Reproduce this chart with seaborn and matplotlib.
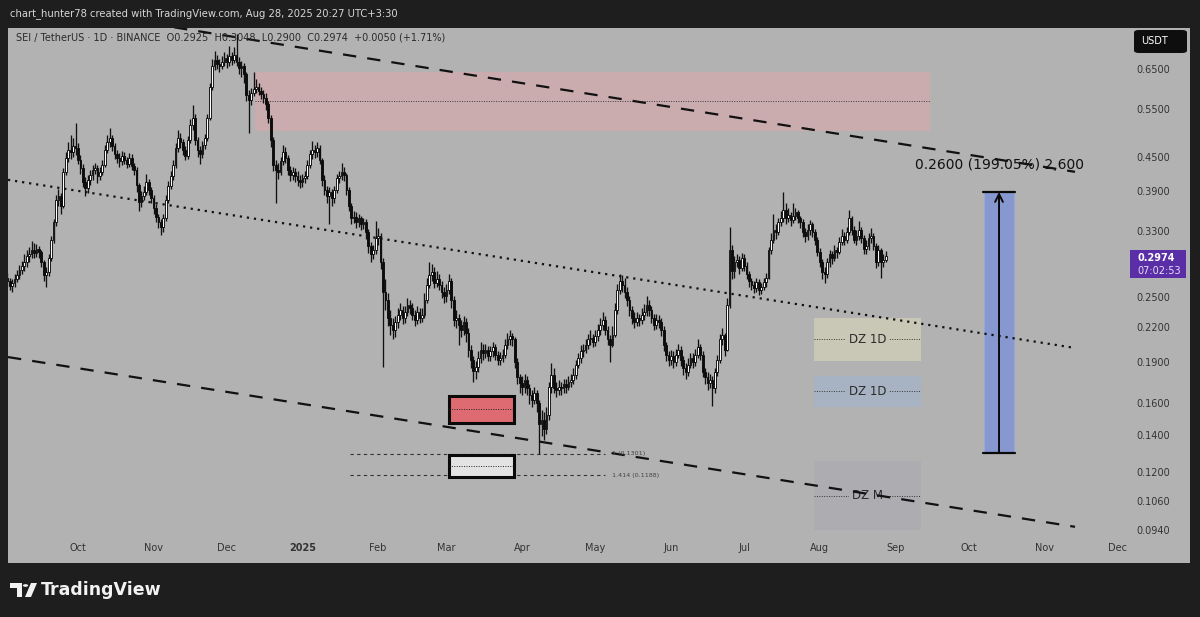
import numpy as np
import pandas as pd
import matplotlib
matplotlib.use("Agg")
import matplotlib.pyplot as plt
import matplotlib.dates as mdates
from matplotlib.patches import Rectangle, FancyBboxPatch, Polygon, Circle
import seaborn as sns

# ---------------- data ----------------
start_date = "2024-09-02"
first_open = 0.272
closes = [
    0.268, 0.263, 0.266, 0.271, 0.275, 0.281, 0.286, 0.290, 0.298, 0.300,
    0.305, 0.302, 0.307, 0.303, 0.290, 0.275, 0.279, 0.296, 0.319, 0.343,
    0.377, 0.383, 0.368, 0.424, 0.450, 0.465, 0.461, 0.472, 0.468, 0.446,
    0.431, 0.406, 0.396, 0.410, 0.418, 0.427, 0.431, 0.417, 0.424, 0.436,
    0.465, 0.480, 0.488, 0.472, 0.456, 0.450, 0.443, 0.454, 0.446, 0.439,
    0.450, 0.435, 0.427, 0.401, 0.374, 0.383, 0.390, 0.406, 0.393, 0.380,
    0.365, 0.351, 0.343, 0.337, 0.349, 0.377, 0.400, 0.417, 0.436, 0.468,
    0.488, 0.480, 0.465, 0.454, 0.484, 0.516, 0.532, 0.484, 0.465, 0.456,
    0.474, 0.488, 0.532, 0.604, 0.661, 0.678, 0.667, 0.661, 0.672, 0.684,
    0.672, 0.690, 0.678, 0.693, 0.672, 0.656, 0.661, 0.639, 0.584, 0.573,
    0.590, 0.601, 0.606, 0.596, 0.587, 0.578, 0.564, 0.532, 0.484, 0.436,
    0.427, 0.424, 0.443, 0.461, 0.450, 0.427, 0.418, 0.424, 0.417, 0.410,
    0.406, 0.413, 0.417, 0.436, 0.456, 0.465, 0.461, 0.468, 0.446, 0.410,
    0.393, 0.383, 0.390, 0.380, 0.393, 0.413, 0.417, 0.424, 0.418, 0.393,
    0.368, 0.349, 0.351, 0.343, 0.349, 0.340, 0.343, 0.329, 0.311, 0.300,
    0.305, 0.321, 0.324, 0.290, 0.256, 0.248, 0.230, 0.223, 0.218, 0.226,
    0.233, 0.238, 0.230, 0.236, 0.243, 0.240, 0.233, 0.228, 0.236, 0.230,
    0.233, 0.248, 0.264, 0.275, 0.279, 0.266, 0.271, 0.264, 0.256, 0.252,
    0.258, 0.268, 0.248, 0.228, 0.230, 0.223, 0.218, 0.226, 0.216, 0.201,
    0.193, 0.184, 0.187, 0.194, 0.201, 0.198, 0.201, 0.196, 0.200, 0.203,
    0.197, 0.193, 0.194, 0.197, 0.205, 0.210, 0.213, 0.210, 0.191, 0.179,
    0.175, 0.172, 0.177, 0.171, 0.166, 0.163, 0.168, 0.161, 0.147, 0.150,
    0.144, 0.153, 0.172, 0.181, 0.171, 0.170, 0.172, 0.171, 0.174, 0.172,
    0.176, 0.177, 0.181, 0.189, 0.194, 0.200, 0.201, 0.205, 0.210, 0.211,
    0.208, 0.213, 0.218, 0.223, 0.228, 0.218, 0.210, 0.205, 0.214, 0.238,
    0.258, 0.268, 0.264, 0.256, 0.248, 0.238, 0.230, 0.226, 0.230, 0.228,
    0.233, 0.236, 0.243, 0.238, 0.230, 0.223, 0.228, 0.226, 0.218, 0.205,
    0.197, 0.193, 0.196, 0.191, 0.197, 0.201, 0.193, 0.186, 0.183, 0.189,
    0.194, 0.191, 0.197, 0.203, 0.197, 0.183, 0.179, 0.175, 0.177, 0.171,
    0.183, 0.193, 0.210, 0.214, 0.201, 0.243, 0.305, 0.280, 0.290, 0.293,
    0.283, 0.296, 0.286, 0.276, 0.268, 0.264, 0.261, 0.267, 0.258, 0.262,
    0.267, 0.272, 0.305, 0.319, 0.332, 0.329, 0.343, 0.349, 0.361, 0.349,
    0.354, 0.346, 0.352, 0.358, 0.349, 0.343, 0.329, 0.324, 0.332, 0.340,
    0.329, 0.319, 0.303, 0.290, 0.279, 0.276, 0.290, 0.300, 0.296, 0.305,
    0.303, 0.316, 0.324, 0.319, 0.329, 0.349, 0.332, 0.319, 0.324, 0.332,
    0.321, 0.307, 0.311, 0.321, 0.324, 0.311, 0.290, 0.305, 0.290, 0.2925,
    0.2974,
]
highs = [
    0.278, 0.272, 0.270, 0.276, 0.281, 0.287, 0.292, 0.300, 0.305, 0.309,
    0.317, 0.314, 0.313, 0.311, 0.306, 0.293, 0.284, 0.300, 0.324, 0.348,
    0.385, 0.395, 0.388, 0.430, 0.460, 0.480, 0.495, 0.488, 0.520, 0.478,
    0.455, 0.438, 0.415, 0.418, 0.428, 0.436, 0.440, 0.436, 0.432, 0.445,
    0.475, 0.495, 0.510, 0.495, 0.478, 0.465, 0.458, 0.462, 0.460, 0.452,
    0.458, 0.456, 0.440, 0.432, 0.405, 0.392, 0.400, 0.420, 0.412, 0.398,
    0.385, 0.370, 0.356, 0.348, 0.356, 0.384, 0.408, 0.426, 0.445, 0.478,
    0.505, 0.500, 0.486, 0.472, 0.492, 0.530, 0.560, 0.540, 0.490, 0.472,
    0.482, 0.496, 0.540, 0.615, 0.680, 0.705, 0.692, 0.680, 0.690, 0.700,
    0.695, 0.720, 0.702, 0.715, 0.755, 0.685, 0.675, 0.668, 0.645, 0.598,
    0.602, 0.645, 0.625, 0.615, 0.606, 0.598, 0.590, 0.570, 0.538, 0.490,
    0.445, 0.440, 0.452, 0.475, 0.470, 0.455, 0.435, 0.432, 0.430, 0.425,
    0.418, 0.420, 0.425, 0.445, 0.465, 0.482, 0.475, 0.480, 0.475, 0.450,
    0.418, 0.400, 0.398, 0.395, 0.400, 0.420, 0.425, 0.440, 0.432, 0.422,
    0.398, 0.372, 0.360, 0.358, 0.356, 0.352, 0.350, 0.348, 0.334, 0.316,
    0.312, 0.345, 0.335, 0.328, 0.295, 0.270, 0.255, 0.238, 0.230, 0.232,
    0.240, 0.245, 0.242, 0.242, 0.250, 0.248, 0.245, 0.238, 0.242, 0.240,
    0.240, 0.255, 0.272, 0.290, 0.288, 0.284, 0.280, 0.276, 0.268, 0.262,
    0.265, 0.276, 0.272, 0.252, 0.238, 0.234, 0.228, 0.232, 0.230, 0.220,
    0.205, 0.196, 0.192, 0.200, 0.208, 0.206, 0.206, 0.204, 0.204, 0.208,
    0.206, 0.200, 0.199, 0.202, 0.210, 0.216, 0.218, 0.216, 0.212, 0.194,
    0.182, 0.180, 0.182, 0.180, 0.174, 0.170, 0.172, 0.170, 0.163, 0.156,
    0.155, 0.158, 0.176, 0.190, 0.186, 0.176, 0.177, 0.176, 0.178, 0.178,
    0.180, 0.182, 0.186, 0.193, 0.198, 0.205, 0.206, 0.210, 0.215, 0.218,
    0.215, 0.218, 0.224, 0.230, 0.236, 0.232, 0.222, 0.214, 0.222, 0.245,
    0.265, 0.276, 0.275, 0.272, 0.262, 0.252, 0.242, 0.236, 0.236, 0.234,
    0.240, 0.244, 0.252, 0.248, 0.242, 0.234, 0.234, 0.233, 0.230, 0.222,
    0.208, 0.200, 0.201, 0.200, 0.202, 0.206, 0.204, 0.196, 0.190, 0.194,
    0.198, 0.198, 0.202, 0.210, 0.206, 0.200, 0.186, 0.183, 0.182, 0.180,
    0.186, 0.197, 0.215, 0.220, 0.216, 0.250, 0.336, 0.312, 0.298, 0.300,
    0.298, 0.302, 0.300, 0.290, 0.280, 0.272, 0.268, 0.272, 0.270, 0.266,
    0.272, 0.278, 0.310, 0.328, 0.356, 0.340, 0.350, 0.360, 0.389, 0.372,
    0.365, 0.358, 0.372, 0.365, 0.362, 0.352, 0.348, 0.335, 0.340, 0.346,
    0.344, 0.334, 0.322, 0.308, 0.294, 0.284, 0.296, 0.306, 0.304, 0.312,
    0.310, 0.322, 0.334, 0.330, 0.336, 0.362, 0.352, 0.338, 0.332, 0.345,
    0.336, 0.325, 0.318, 0.328, 0.335, 0.328, 0.315, 0.312, 0.308, 0.300,
    0.3048,
]
lows = [
    0.262, 0.258, 0.256, 0.262, 0.267, 0.271, 0.276, 0.280, 0.285, 0.291,
    0.295, 0.296, 0.297, 0.296, 0.285, 0.268, 0.262, 0.274, 0.292, 0.315,
    0.338, 0.368, 0.355, 0.365, 0.418, 0.442, 0.448, 0.452, 0.455, 0.438,
    0.420, 0.398, 0.383, 0.388, 0.402, 0.410, 0.420, 0.405, 0.410, 0.418,
    0.432, 0.458, 0.470, 0.462, 0.448, 0.440, 0.432, 0.436, 0.438, 0.430,
    0.432, 0.428, 0.418, 0.390, 0.360, 0.366, 0.376, 0.385, 0.385, 0.372,
    0.356, 0.344, 0.335, 0.326, 0.330, 0.345, 0.372, 0.394, 0.410, 0.430,
    0.460, 0.468, 0.455, 0.445, 0.448, 0.478, 0.505, 0.475, 0.452, 0.438,
    0.450, 0.466, 0.482, 0.528, 0.598, 0.650, 0.652, 0.645, 0.652, 0.660,
    0.655, 0.662, 0.665, 0.670, 0.660, 0.640, 0.630, 0.615, 0.570, 0.500,
    0.560, 0.582, 0.590, 0.585, 0.575, 0.566, 0.550, 0.520, 0.470, 0.425,
    0.372, 0.412, 0.418, 0.436, 0.440, 0.418, 0.408, 0.410, 0.406, 0.400,
    0.396, 0.398, 0.405, 0.412, 0.430, 0.448, 0.450, 0.452, 0.438, 0.400,
    0.384, 0.372, 0.340, 0.368, 0.372, 0.388, 0.405, 0.410, 0.408, 0.385,
    0.360, 0.340, 0.342, 0.335, 0.336, 0.332, 0.334, 0.320, 0.302, 0.290,
    0.294, 0.300, 0.312, 0.282, 0.187, 0.238, 0.222, 0.214, 0.210, 0.212,
    0.220, 0.228, 0.224, 0.225, 0.232, 0.234, 0.228, 0.222, 0.224, 0.225,
    0.226, 0.230, 0.245, 0.260, 0.268, 0.260, 0.262, 0.258, 0.250, 0.245,
    0.246, 0.254, 0.240, 0.222, 0.220, 0.205, 0.212, 0.214, 0.208, 0.195,
    0.186, 0.176, 0.178, 0.183, 0.190, 0.193, 0.194, 0.192, 0.192, 0.195,
    0.193, 0.189, 0.189, 0.191, 0.194, 0.202, 0.205, 0.204, 0.186, 0.174,
    0.168, 0.166, 0.168, 0.166, 0.160, 0.158, 0.160, 0.155, 0.130, 0.140,
    0.138, 0.141, 0.150, 0.168, 0.168, 0.165, 0.166, 0.166, 0.168, 0.168,
    0.170, 0.172, 0.174, 0.178, 0.186, 0.190, 0.195, 0.198, 0.202, 0.205,
    0.203, 0.204, 0.209, 0.214, 0.218, 0.214, 0.205, 0.191, 0.203, 0.212,
    0.234, 0.254, 0.256, 0.250, 0.242, 0.232, 0.224, 0.220, 0.222, 0.222,
    0.224, 0.228, 0.232, 0.232, 0.225, 0.218, 0.219, 0.220, 0.213, 0.200,
    0.192, 0.188, 0.189, 0.186, 0.188, 0.194, 0.188, 0.181, 0.178, 0.180,
    0.186, 0.186, 0.188, 0.194, 0.193, 0.179, 0.174, 0.170, 0.171, 0.159,
    0.168, 0.180, 0.190, 0.205, 0.196, 0.200, 0.240, 0.270, 0.272, 0.284,
    0.276, 0.280, 0.280, 0.270, 0.262, 0.258, 0.255, 0.256, 0.253, 0.254,
    0.258, 0.262, 0.270, 0.300, 0.314, 0.320, 0.325, 0.338, 0.344, 0.340,
    0.344, 0.338, 0.342, 0.346, 0.342, 0.335, 0.322, 0.316, 0.318, 0.326,
    0.322, 0.312, 0.298, 0.284, 0.270, 0.266, 0.272, 0.285, 0.288, 0.292,
    0.296, 0.300, 0.312, 0.312, 0.315, 0.325, 0.326, 0.314, 0.312, 0.318,
    0.315, 0.300, 0.300, 0.306, 0.315, 0.305, 0.283, 0.286, 0.272, 0.285,
    0.2900,
]

price_ticks = [0.65, 0.55, 0.45, 0.39, 0.33, 0.25, 0.22, 0.19, 0.16, 0.14, 0.12, 0.106, 0.094]
price_tick_labels = ["0.6500", "0.5500", "0.4500", "0.3900", "0.3300", "0.2500", "0.2200",
                     "0.1900", "0.1600", "0.1400", "0.1200", "0.1060", "0.0940"]
month_dates = ["2024-10-01", "2024-11-01", "2024-12-01", "2025-01-01", "2025-02-01",
               "2025-03-01", "2025-04-01", "2025-05-01", "2025-06-01", "2025-07-01",
               "2025-08-01", "2025-09-01", "2025-10-01", "2025-11-01", "2025-12-01"]
month_labels = ["Oct", "Nov", "Dec", "2025", "Feb", "Mar", "Apr", "May", "Jun", "Jul",
                "Aug", "Sep", "Oct", "Nov", "Dec"]

# drawings (date, price)
upper_trend_dates = ["2024-10-30 12:00", "2025-11-13 14:00"]
upper_trend_prices = [0.790, 0.424]
mid_trend_dates = ["2024-09-02 08:00", "2025-11-13 14:00"]
mid_trend_prices = [0.410, 0.2026]
lower_trend_dates = ["2024-09-02 08:00", "2025-11-13 14:00"]
lower_trend_prices = [0.195, 0.0957]

supply_zone_dates = ["2024-12-12 14:00", "2025-09-15 05:00"]
supply_zone_prices = [0.503, 0.645]
red_box_dates = ["2025-03-02 02:00", "2025-03-28 17:00"]
red_box_prices = [0.148, 0.1657]
white_box_prices = [0.118, 0.1294]
fib_dates = ["2025-01-20 12:00", "2025-05-05 00:00"]
fib_levels = [0.1301, 0.1188]
fib_labels = ["1 (0.1301)", "1.414 (0.1188)"]
dz_dates = ["2025-07-29 14:00", "2025-09-11 12:00"]
dz_bottoms = [0.1919, 0.1582, 0.0944]
dz_tops = [0.2298, 0.1802, 0.1261]
dz_labels = ["DZ 1D", "DZ 1D", "DZ M"]
dz_colors = ["#c9c7b6", "#a7b3c3", "#adadb1"]
measure_dates = ["2025-10-07 07:00", "2025-10-19 14:00"]
measure_prices = [0.1305, 0.3897]
measure_label = "0.2600 (199.05%) 2,600"
last_price_label = "0.2974"
countdown_label = "07:02:53"

# ---------------- figure ----------------
sns.set_theme(style="dark")
plt.rcParams["font.family"] = ["DejaVu Sans"]

W, H = 1200, 617
BG_DARK = "#1e1e1e"
PANEL = "#b2b2b2"
fig = plt.figure(figsize=(W / 100, H / 100), dpi=100, facecolor=BG_DARK)


def fx(x):
    return x / W


def fy(y):
    return 1 - y / H


# gray panel (behind the axes)
fig.patches.append(Rectangle((fx(8), fy(563)), fx(1190) - fx(8), fy(28) - fy(563),
                             transform=fig.transFigure, facecolor=PANEL, edgecolor="none", zorder=-5))

ax = fig.add_axes([fx(8), fy(537), fx(1190) - fx(8), fy(28) - fy(537)])
ax.set_zorder(1)
ax.set_facecolor(PANEL)
for s in ax.spines.values():
    s.set_visible(False)

dates = pd.date_range(start_date, periods=len(closes), freq="D")
xd = mdates.date2num(dates)
opens = [first_open] + closes[:-1]
df = pd.DataFrame({"x": xd, "open": opens, "high": highs, "low": lows, "close": closes})
df["up"] = df["close"] >= df["open"]
df["bottom"] = df[["open", "close"]].min(axis=1)
df["top"] = df[["open", "close"]].max(axis=1)

base = mdates.date2num(pd.Timestamp(start_date))
ax.set_yscale("log")
ax.set_xlim(base + 0.33, base + 484.7)
ax.set_ylim(0.0917, 0.775)

# wicks
ax.vlines(df["x"], df["low"], df["high"], color="#111111", linewidth=0.95, zorder=3)
# bodies
up = df[df["up"]]
dn = df[~df["up"]]
ax.bar(up["x"], np.maximum(up["top"] - up["bottom"], up["top"] * 0.004), bottom=up["bottom"],
       width=0.72, color="white", edgecolor="#0c0c0c", linewidth=0.65, zorder=4)
ax.bar(dn["x"], np.maximum(dn["top"] - dn["bottom"], dn["top"] * 0.004), bottom=dn["bottom"],
       width=0.72, color="#0c0c0c", edgecolor="#0c0c0c", linewidth=0.65, zorder=4)


def dnum(s):
    return mdates.date2num(pd.Timestamp(s))


# supply zone (pink)
sx0, sx1 = dnum(supply_zone_dates[0]), dnum(supply_zone_dates[1])
ax.add_patch(Rectangle((sx0, supply_zone_prices[0]), sx1 - sx0,
                       supply_zone_prices[1] - supply_zone_prices[0],
                       facecolor="#d3a9ad", alpha=0.75, edgecolor="none", zorder=1))
smid = np.sqrt(supply_zone_prices[0] * supply_zone_prices[1])
ax.plot([sx0, sx1], [smid, smid], color="#3a3a3a", lw=0.7, ls=(0, (1, 1.5)), zorder=2)

# trend lines
tl = pd.DataFrame({"x": [dnum(d) for d in upper_trend_dates], "y": upper_trend_prices})
sns.lineplot(data=tl, x="x", y="y", ax=ax, color="#111111", lw=1.6, linestyle=(0, (6, 5)), zorder=5)
tl = pd.DataFrame({"x": [dnum(d) for d in mid_trend_dates], "y": mid_trend_prices})
sns.lineplot(data=tl, x="x", y="y", ax=ax, color="#111111", lw=1.6, linestyle=(0, (1, 2.2)), zorder=5)
tl = pd.DataFrame({"x": [dnum(d) for d in lower_trend_dates], "y": lower_trend_prices})
sns.lineplot(data=tl, x="x", y="y", ax=ax, color="#111111", lw=1.6, linestyle=(0, (6, 5)), zorder=5)

# red and white boxes
bx0, bx1 = dnum(red_box_dates[0]), dnum(red_box_dates[1])
for (lo, hi), fc in [(red_box_prices, "#dd6b71"), (white_box_prices, "#e3e3e3")]:
    ax.add_patch(Rectangle((bx0, lo), bx1 - bx0, hi - lo, facecolor=fc,
                           edgecolor="#0a0a0a", linewidth=2.2, zorder=6))
    m = np.sqrt(lo * hi)
    ax.plot([bx0, bx1], [m, m], color="#222222", lw=0.7, ls=(0, (1, 1.5)), zorder=7)

# fib levels
fx0, fx1 = dnum(fib_dates[0]), dnum(fib_dates[1])
for lvl, lab in zip(fib_levels, fib_labels):
    ax.plot([fx0, fx1], [lvl, lvl], color="#333333", lw=0.8, ls=(0, (3, 3)), zorder=2)
    ax.text(fx1 + 3, lvl, lab, fontsize=4.6, color="#444444", va="center", ha="left", zorder=8)

# demand zones
dx0, dx1 = dnum(dz_dates[0]), dnum(dz_dates[1])
for lo, hi, lab, col in zip(dz_bottoms, dz_tops, dz_labels, dz_colors):
    ax.add_patch(Rectangle((dx0, lo), dx1 - dx0, hi - lo, facecolor=col,
                           edgecolor="none", zorder=2))
    m = np.sqrt(lo * hi)
    ax.plot([dx0, dx1], [m, m], color="#333333", lw=0.7, ls=(0, (1, 1.5)), zorder=3)
    ax.text((dx0 + dx1) / 2, m, lab, fontsize=8.5, color="#2b2b2b", ha="center", va="center",
            zorder=4, bbox=dict(facecolor=col, edgecolor="none", pad=2))

# measurement
mx0, mx1 = dnum(measure_dates[0]), dnum(measure_dates[1])
mc = (mx0 + mx1) / 2
mlo, mhi = measure_prices
ax.add_patch(Rectangle((mx0, mlo), mx1 - mx0, mhi - mlo, facecolor="#8797cf",
                       edgecolor="#9aa8d6", linewidth=0.8, zorder=2))
ax.plot([mx0 - 0.3, mx1 + 0.3], [mlo, mlo], color="#0a0a0a", lw=1.6, zorder=6)
ax.plot([mx0 - 0.3, mx1 + 0.3], [mhi, mhi], color="#0a0a0a", lw=1.6, zorder=6)
ax.annotate("", xy=(mc, mhi), xytext=(mc, mlo),
            arrowprops=dict(arrowstyle="->", color="#0a0a0a", lw=1.4, mutation_scale=14,
                            shrinkA=0, shrinkB=0), zorder=6)
ax.text(mc, mhi * 1.12, measure_label, fontsize=10, color="#111111", ha="center", va="center", zorder=7)

# axes ticks
ax.set_xticks([dnum(d) for d in month_dates])
ax.set_xticklabels(month_labels)
ax.tick_params(axis="x", length=0, pad=4, labelsize=7, labelcolor="#333333")
for t in ax.get_xticklabels():
    if t.get_text() == "2025":
        t.set_fontweight("bold")
ax.set_yticks([])
ax.set_yticks([], minor=True)
ax.set_xlabel("")
ax.set_ylabel("")
ax.grid(False)

for p, lab in zip(price_ticks, price_tick_labels):
    ax.text((1153 - 8) / (1190 - 8), p, lab, transform=ax.get_yaxis_transform(),
            fontsize=7, color="#333333", ha="center", va="center", zorder=9, clip_on=True)

# header texts
fig.text(fx(10), fy(14), "chart_hunter78 created with TradingView.com, Aug 28, 2025 20:27 UTC+3:30",
         color="#d6d6d6", fontsize=7.2, ha="left", va="center")
fig.text(fx(16), fy(38),
         "SEI / TetherUS \u00b7 1D \u00b7 BINANCE  O0.2925  H0.3048  L0.2900  C0.2974  +0.0050 (+1.71%)",
         color="#2a2a2a", fontsize=7.0, ha="left", va="center", zorder=10)

# USDT box
fig.patches.append(FancyBboxPatch((fx(1134), fy(53)), fx(1187) - fx(1134), fy(30) - fy(53),
                                  boxstyle="round,pad=0,rounding_size=0.004",
                                  transform=fig.transFigure, facecolor="#0e0e0e", edgecolor="none", zorder=5))
fig.text(fx(1155), fy(41.5), "USDT", color="white", fontsize=7, ha="center", va="center", zorder=6)

# last price label
fig.patches.append(Rectangle((fx(1130), fy(278)), fx(1186) - fx(1130), fy(250) - fy(278),
                             transform=fig.transFigure, facecolor="#5a2ea6", edgecolor="none", zorder=5))
fig.text(fx(1137), fy(258), last_price_label, color="white", fontsize=7, fontweight="bold",
         ha="left", va="center", zorder=6)
fig.text(fx(1137), fy(270.5), countdown_label, color="#e8e0f5", fontsize=7,
         ha="left", va="center", zorder=6)

# TradingView logo
logo = "#f2f2f2"
fig.patches.append(Polygon([(fx(10), fy(583)), (fx(22), fy(583)), (fx(22), fy(597)), (fx(17), fy(597)),
                            (fx(17), fy(588)), (fx(10), fy(588))], closed=True,
                           transform=fig.transFigure, facecolor=logo, edgecolor="none"))
fig.patches.append(Circle((fx(25.5), fy(585.5)), 2.6 / W, transform=fig.transFigure,
                          facecolor=logo, edgecolor="none"))
fig.patches.append(Polygon([(fx(31), fy(583)), (fx(37), fy(583)), (fx(31), fy(597)), (fx(25), fy(597))],
                           closed=True, transform=fig.transFigure, facecolor=logo, edgecolor="none"))
fig.text(fx(41), fy(590), "TradingView", color=logo, fontsize=12.5, fontweight="bold",
         ha="left", va="center")

fig.savefig("out.png", dpi=100, facecolor=BG_DARK)
